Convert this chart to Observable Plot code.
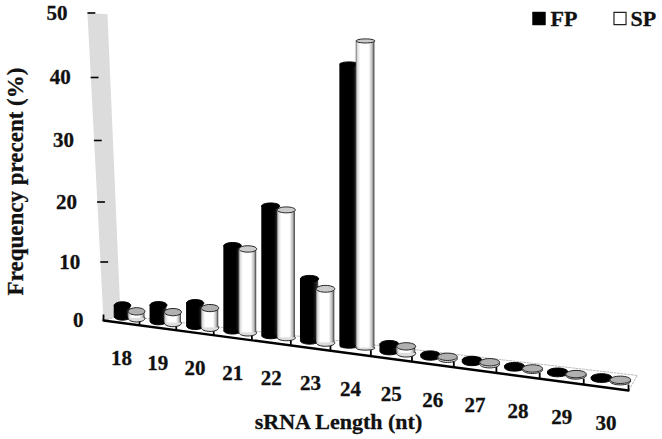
<!DOCTYPE html>
<html>
<head>
<meta charset="utf-8">
<style>html,body{margin:0;padding:0;background:#fff}svg{display:block}</style>
<script src="https://cdn.jsdelivr.net/npm/d3@7"></script>
<script src="https://cdn.jsdelivr.net/npm/@observablehq/plot@0.6"></script>
</head>
<body>
<script>
const lengths = [18,19,20,21,22,23,24,25,26,27,28,29,30];
const fpValues = [1.9,2.7,3.8,13.8,20.6,9.85,42.4,1.1,0.3,0.3,0.2,0.2,0.2];
const spValues = [1.2,1.85,3.3,13.6,20.3,8.6,46,1.1,0.3,0.3,0.2,0.2,0.2];
const yTicks = [0,10,20,30,40,50];
const FONT = "'Liberation Serif','Times New Roman',serif";

// 3D look of the original: depth along the category axis, floor dropping to the right
const pxPerU = 35.64, pxPerY = 5.775;
const u = i => i + 0.01024 * i * i;
const frontY = U => -0.823 * U;
const floorY = U => 1.12 - 0.802 * U;
const lift = v => v + 0.0013 * v * v;
const bars = (vals, off0, offStep) => lengths.map((len, c) => {
  const off = off0 - offStep * c;
  const v = vals[c], U = u(c + off), half = 0.23;
  const fl = floorY(U), top = fl + (1 + 0.014 * (c + 0.5)) * lift(v);
  const rx = (u(c + off + half) - u(c + off - half)) * pxPerU / 2;
  return {len, v, U, U1: u(c + off - half), U2: u(c + off + half), fl, top, rx, ry: 3.7 - 0.036 * v};
});
const ellipse = (rx, ry) => ({draw(p) {
  const k = 0.5523;
  p.moveTo(-rx, 0);
  p.bezierCurveTo(-rx, -ry * k, -rx * k, -ry, 0, -ry);
  p.bezierCurveTo(rx * k, -ry, rx, -ry * k, rx, 0);
  p.bezierCurveTo(rx, ry * k, rx * k, ry, 0, ry);
  p.bezierCurveTo(-rx * k, ry, -rx, ry * k, -rx, 0);
  p.closePath();
}});
const fp = bars(fpValues, 0.53, 0.011), sp = bars(spValues, 0.92, 0.0085);

const wall = [
  {U: 0, Y: 0},
  {U: -0.009 * 50, Y: lift(50)},
  {U: 0.477 - 0.0073 * 50, Y: 0.866 + 0.98 * lift(50)},
  {U: 0.477, Y: 0.866}
];
const floor = [
  {U: 0, Y: 0},
  {U: 0.477, Y: 0.866},
  {U: 14.98, Y: -9.52},
  {U: u(13), Y: frontY(u(13))}
];
const axisLine = [{U: 0, Y: 0}, {U: u(13), Y: frontY(u(13))}];
const xBoundaries = d3.range(14).map(c => ({U: u(c), Y: frontY(u(c))}));
const yRows = yTicks.map(v => ({v, U: -0.009 * v, Y: lift(v)}));

function gradients() {
  const defs = d3.create("svg:defs");
  const add = (id, stops) => {
    const g = defs.append("linearGradient").attr("id", id);
    stops.forEach(([o, c]) => g.append("stop").attr("offset", o).attr("stop-color", c));
  };
  add("cylSP", [[0, "#666"], [0.1, "#ddd"], [0.25, "#fff"], [0.7, "#fff"], [0.88, "#bbb"], [1, "#333"]]);
  add("cylFP", [[0, "#000"], [0.7, "#000"], [0.9, "#222"], [1, "#555"]]);
  return defs.node();
}

const cylinder = (rows, bodyFill, capFill, stroke) => [
  Plot.dot(rows, {x: "U", y: "fl", symbol: d => ellipse(d.rx, d.ry), fill: bodyFill === "url(#cylSP)" ? "#ddd" : "#000", stroke, strokeWidth: 1}),
  Plot.rect(rows, {x1: "U1", x2: "U2", y1: "fl", y2: "top", fill: bodyFill}),
  Plot.dot(rows, {x: "U", y: "top", symbol: d => ellipse(d.rx, d.ry), fill: capFill, stroke, strokeWidth: 1})
];

const txt = {fontFamily: FONT, fontWeight: "bold", fill: "#111", stroke: "#111", strokeWidth: 0.3};

const chart = Plot.plot({
  width: 662, height: 439,
  marginTop: 0, marginRight: 0, marginBottom: 0, marginLeft: 0,
  x: {axis: null, domain: [-103 / pxPerU, 559 / pxPerU], range: [0, 662]},
  y: {axis: null, domain: [-119 / pxPerY, 320 / pxPerY], range: [439, 0]},
  symbol: {type: "identity"},
  style: {background: "#fff", fontFamily: FONT},
  marks: [
    gradients,
    Plot.line(wall, {x: "U", y: "Y", fill: "#dcdcdc", stroke: "none", curve: "linear-closed"}),
    Plot.line(floor, {x: "U", y: "Y", fill: "#fff", stroke: "#bbb", strokeWidth: 1, strokeDasharray: "2,1.5", curve: "linear-closed"}),
    Plot.line(axisLine, {x: "U", y: "Y", stroke: "#000", strokeWidth: 2.4}),
    Plot.link(xBoundaries, {x1: "U", x2: "U", y1: "Y", y2: d => d.Y + 1.04, stroke: "#000", strokeWidth: 1.8}),
    Plot.link(yRows.filter(d => d.v > 0), {x1: "U", x2: d => d.U + 0.22, y1: "Y", y2: "Y", stroke: "#000", strokeWidth: 1.6}),
    ...cylinder(fp, "url(#cylFP)", "#000", "#000"),
    ...cylinder(sp, "url(#cylSP)", d => d.v > 5 ? "#ccc" : "#b0b0b0", "#222"),
    Plot.text(yRows, {x: d => d.U - 0.561, y: "Y", text: d => String(d.v), textAnchor: "end", fontSize: 21, ...txt}),
    Plot.text(lengths, {
      x: (d, c) => u(c + 0.5),
      y: (d, c) => frontY(u(c + 0.5)) - 6.15,
      text: d => String(d), fontSize: 21, ...txt
    }),
    Plot.text(["sRNA Length (nt)"], {frameAnchor: "top-left", dx: 338, dy: 421, textAnchor: "middle", lineAnchor: "middle", text: d => d, fontSize: 22, ...txt}),
    Plot.text(["Frequency precent (%)"], {frameAnchor: "top-left", dx: 15, dy: 181, rotate: -90, textAnchor: "middle", lineAnchor: "middle", text: d => d, fontSize: 23, ...txt}),
    Plot.dot(["FP"], {frameAnchor: "top-left", dx: 538.5, dy: 18, symbol: "square", r: 7.3, fill: "#000", stroke: "#000", strokeWidth: 0.5}),
    Plot.text(["FP"], {frameAnchor: "top-left", dx: 550, dy: 18, textAnchor: "start", lineAnchor: "middle", text: d => d, fontSize: 22, ...txt}),
    Plot.dot(["SP"], {frameAnchor: "top-left", dx: 619.5, dy: 18, symbol: "square", r: 6.8, fill: "#fff", stroke: "#222", strokeWidth: 1.2}),
    Plot.text(["SP"], {frameAnchor: "top-left", dx: 630, dy: 18, textAnchor: "start", lineAnchor: "middle", text: d => d, fontSize: 22, ...txt})
  ]
});
document.body.appendChild(chart);
</script>
</body>
</html>
